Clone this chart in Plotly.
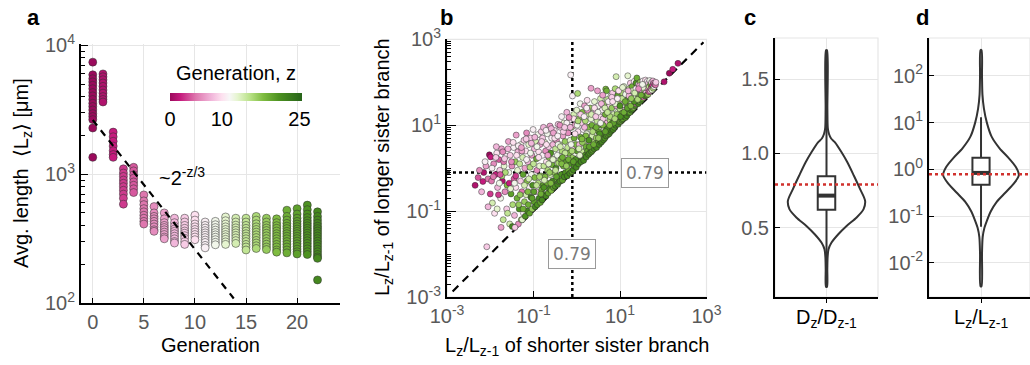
import math
import plotly.graph_objects as go

W, H = 1030, 365
FONT = "Liberation Sans, Arial, Helvetica, sans-serif"
TICK_GREY = "#595959"
GRID = "#e6e6e6"
INK = "#333333"
REF_RED = "#d0312d"

# ---------------- panel a: average branch length per generation (µm) ----------------
# one row per generation z = 0, 1, 2, ...
a_length_by_generation = [
    [7400, 5900, 5500, 5200, 4900, 4600, 4300, 4050, 3800, 3550, 3350, 3150, 2950, 2800, 2650, 2280, 1350],
    [6000, 5700, 5400, 5100, 4800, 4500, 4250, 4000, 3800, 3630],
    [2120, 1950, 1800, 1650, 1520, 1420, 1350],
    [1100, 1020, 960, 900, 850, 800, 750, 700, 650, 585],
    [1130, 1060, 990, 930, 870, 820, 770, 720],
    [690, 620, 580, 540, 510, 480, 455, 430, 410],
    [560, 500, 470, 450, 430, 410, 390, 370, 360],
    [500, 450, 420, 400, 385, 370, 355, 340, 325, 315],
    [455, 420, 395, 375, 360, 345, 330, 315, 300, 292],
    [455, 425, 400, 380, 362, 348, 333, 318, 300, 285],
    [480, 440, 410, 390, 372, 356, 340, 325, 310],
    [425, 400, 382, 365, 350, 336, 322, 308, 295, 280, 268],
    [430, 405, 385, 368, 352, 338, 324, 310, 296, 283],
    [465, 435, 410, 390, 372, 356, 340, 326, 312, 298, 285],
    [455, 425, 402, 383, 366, 350, 335, 320, 305, 290],
    [455, 425, 400, 380, 362, 345, 330, 315, 300, 285, 272, 258],
    [470, 440, 412, 390, 372, 355, 338, 322, 306, 292, 278, 265],
    [455, 425, 400, 382, 365, 348, 332, 316, 300, 286, 272, 260],
    [450, 420, 398, 380, 362, 345, 330, 315, 300, 285, 272, 258, 248],
    [525, 470, 440, 415, 395, 378, 360, 345, 330, 315, 300, 286, 272, 258, 245],
    [540, 490, 455, 430, 410, 392, 375, 360, 345, 330, 316, 302, 288, 275, 262, 250, 240],
    [575, 530, 490, 460, 435, 415, 397, 380, 364, 348, 333, 318, 304, 290, 276, 263, 250, 238],
    [510, 470, 440, 415, 395, 378, 362, 346, 331, 316, 302, 288, 275, 262, 250, 238, 228, 222, 151],
]
fit_prefactor_um = 2630          # L(z) ~ L0 * 2^(-z/3)
fit_generation_span = [0, 13.8]

# ---------------- panel b: daughter/parent length ratios of sister branches ----------------
# log10 of L_z/L_{z-1} for the shorter and the longer sister, plus the generation z
b_log_short = [
    -2.35, -2.17, -2.15, -2.02, -1.99, -2.00, -2.25, -2.10, -2.05, -2.20, -2.08, -2.12, -2.28,
    -1.95, -1.92, -1.88, -1.85, -1.83, -1.80, -1.78, -1.76, -1.74, -1.72, -1.70, -1.68, -1.66, -1.64, -1.62, -1.97, -1.90, -1.86, -1.81, -1.73, -1.69, -1.61, -1.75,
    -1.58, -1.57, -1.55, -1.54, -1.52, -1.50, -1.49, -1.48, -1.46, -1.45, -1.44, -1.42, -1.41, -1.40, -1.38, -1.37, -1.36, -1.35, -1.33, -1.32, -1.30, -1.29, -1.28, -1.27, -1.25, -1.24, -1.23, -1.22, -1.21, -1.20, -1.56, -1.43, -1.26,
    -1.19, -1.18, -1.17, -1.16, -1.15, -1.14, -1.13, -1.12, -1.11, -1.10, -1.09, -1.08, -1.07, -1.06, -1.05, -1.04, -1.03, -1.02, -1.01, -1.00, -0.99, -0.98, -0.97, -0.96, -0.95, -0.94, -0.93, -0.92, -0.91, -0.90, -0.89, -0.88, -0.87, -0.86, -0.85, -0.84, -0.83, -0.82, -0.81,
    -0.80, -0.79, -0.78, -0.77, -0.76, -0.75, -0.74, -0.73, -0.72, -0.71, -0.70, -0.69, -0.68, -0.67, -0.66, -0.65, -0.64, -0.63, -0.62, -0.61, -0.60, -0.59, -0.58, -0.57, -0.56, -0.55, -0.54, -0.53, -0.52, -0.51, -0.50, -0.49, -0.48, -0.47, -0.46, -0.45, -0.44, -0.43, -0.42, -0.41,
    -0.40, -0.39, -0.38, -0.37, -0.36, -0.35, -0.34, -0.33, -0.32, -0.31, -0.30, -0.29, -0.28, -0.27, -0.26, -0.25, -0.24, -0.23, -0.22, -0.21, -0.20, -0.19, -0.18, -0.17, -0.16, -0.15, -0.14, -0.14, -0.12, -0.11, -0.10, -0.10, -0.09, -0.08, -0.07, -0.06, -0.05, -0.04, -0.03, -0.02, -0.01,
    0.00, 0.02, 0.01, 0.03, 0.04, 0.05, 0.06, 0.07, 0.08, 0.09, 0.10, 0.11, 0.12, 0.13, 0.14, 0.15, 0.16, 0.17, 0.18, 0.19, 0.20, 0.21, 0.22, 0.23, 0.24, 0.25, 0.26, 0.27, 0.28, 0.29, 0.30, 0.31, 0.33, 0.32, 0.34, 0.35, 0.36, 0.37, 0.38, 0.39,
    0.40, 0.41, 0.42, 0.43, 0.44, 0.45, 0.46, 0.47, 0.48, 0.49, 0.50, 0.51, 0.52, 0.53, 0.54, 0.55, 0.56, 0.57, 0.58, 0.59, 0.60, 0.61, 0.62, 0.63, 0.64, 0.65, 0.66, 0.67, 0.69, 0.68, 0.70, 0.71, 0.72, 0.73, 0.74, 0.75, 0.76, 0.77, 0.78, 0.79,
    0.80, 0.81, 0.82, 0.83, 0.84, 0.85, 0.86, 0.87, 0.88, 0.89, 0.90, 0.91, 0.92, 0.93, 0.94, 0.95, 0.96, 0.97, 0.98, 0.99, 1.00, 1.01, 1.02, 1.03, 1.04, 1.05, 1.06, 1.07, 1.08, 1.09, 1.10, 1.11, 1.12, 1.13, 1.14, 1.15, 1.16, 1.18, 1.17, 1.19,
    1.20, 1.21, 1.22, 1.23, 1.24, 1.25, 1.26, 1.27, 1.28, 1.29, 1.30, 1.31, 1.32, 1.33, 1.34, 1.35, 1.36, 1.37, 1.39, 1.38, 1.40, 1.41, 1.42, 1.43, 1.44, 1.45, 1.46, 1.47, 1.48, 1.49, 1.50, 1.51, 1.52, 1.53, 1.54, 1.55, 1.56, 1.57, 1.58, 1.59,
    1.60, 1.61, 1.62, 1.63, 1.64, 1.65, 1.66, 1.67, 1.68, 1.69, 1.70, 1.71, 1.72, 1.73, 1.74, 1.75, 1.76, 1.77, 1.78, 1.79, 1.80, 1.82, 1.83,
    -1.93, -1.87, -1.79, -1.71, -1.65, -1.59, -1.53, -1.47, -1.41, -1.35, -1.31, -1.27, -1.21, -1.17, -1.13, -1.07, -1.03, -0.97, -0.93, -0.88,
    -0.83, -0.79, -0.75, -0.71, -0.67, -0.63, -0.59, -0.55, -0.51, -0.47, -0.43, -0.39, -0.35, -0.31, -0.27, -0.23, -0.19, -0.15, -0.11, -0.07,
    -0.03, 0.01, 0.05, 0.09, 0.13, 0.17, 0.21, 0.25, 0.29, 0.33, 0.37, 0.41, 0.45, 0.49, 0.53, 0.57, 0.61, 0.65, 0.69, 0.73,
    0.77, 0.81, 0.85, 0.89, 0.93, 0.97, 1.01, 1.05, 1.09, 1.13, 1.17, 1.21, 1.25, 1.29, 1.33, 1.37, 1.41, 1.45, 1.49, 1.53,
    -2.05, -1.96, -1.84, -1.77, -1.67, -1.60, -1.51, -1.44, -1.39, -1.34, -1.28, -1.24, -1.16, -1.11, -1.05, -0.99, -0.92, -0.86, -0.81, -0.76,
    -0.70, -0.65, -0.60, -0.54, -0.49, -0.44, -0.38, -0.33, -0.28, -0.24, -0.18, -0.13, -0.08, -0.04, 0.03, 0.07, 0.12, 0.18, 0.23, 0.28,
    0.34, 0.39, 0.44, 0.50, 0.55, 0.60, 0.66, 0.71, 0.76, 0.83, 0.88, 0.94, 1.00, 1.06, 1.12, 1.19, 1.26, 1.34, 1.43, 1.52,
    2.02, 2.14, 2.22, 2.34,
]
b_log_long = [
    -0.40, -0.31, -0.10, 0.31, 0.26, -0.60, -0.05, 0.05, -0.25, -0.55, -1.83, 0.15, -0.22,
    -0.81, 0.10, -0.15, 0.35, -0.45, 0.20, -0.05, -0.70, 0.45, -0.30, -1.20, 0.05, -0.55, 0.28, -0.95, -0.30, -1.05, 0.50, -0.62, -0.18, 0.15, -0.40, -1.38,
    0.62, -0.10, -1.30, 0.30, -0.60, 0.05, -1.36, -0.85, 0.48, -0.25, -1.10, 0.15, -0.45, 0.77, -0.70, -0.05, 0.38, -1.30, -0.95, 0.10, -0.30, 0.55, -1.20, -0.55, 0.25, -0.15, -1.05, 0.65, -0.78, 0.00, -0.35, -1.38, -1.20,
    -1.12, 0.40, -0.62, 0.82, -0.30, -1.00, 0.15, -0.85, 0.55, -0.45, -1.05, 0.02, 0.70, -0.68, -0.15, 0.30, -0.95, -0.40, 0.90, 0.10, -0.78, 0.45, -0.22, -0.90, 0.62, -0.55, 0.22, -0.05, -0.85, 0.78, -0.35, 0.38, -0.70, 0.05, 0.55, -0.80, -0.18, 0.85, -0.50,
    -0.74, 0.30, -0.40, 0.95, 0.05, -0.62, 0.60, -0.20, 0.40, -0.65, 0.15, -0.35, 0.80, -0.05, -0.58, 0.50, 0.25, -0.48, 0.98, -0.15, 0.35, -0.52, 0.70, 0.08, -0.30, 0.55, -0.45, 0.20, 0.88, -0.10, -0.42, 0.45, 0.00, 0.65, -0.25, 0.30, -0.38, 1.02, 0.12, -0.32,
    0.55, -0.30, 0.95, 0.20, -0.15, 1.20, 0.40, -0.28, 0.75, 0.05, 1.05, -0.20, 0.30, 0.62, -0.10, 0.90, 0.15, 1.30, -0.18, 0.48, 0.82, -0.05, 0.35, 1.12, -0.12, 0.65, 0.10, 2.17, 0.95, -0.08, 1.68, 0.45, 0.25, -0.04, 1.25, 0.70, 0.05, 1.00, 0.35, 0.55, 0.02,
    1.35, 1.74, 0.40, 0.85, 0.10, 1.15, 0.55, 0.20, 1.50, 0.72, 0.15, 1.05, 0.38, 1.30, 0.25, 0.90, 0.18, 0.60, 1.45, 0.30, 1.10, 0.50, 0.26, 0.80, 1.58, 0.40, 0.95, 0.32, 1.25, 0.68, 0.35, 1.40, 1.86, 0.55, 0.38, 1.00, 0.75, 0.42, 1.20, 0.60,
    0.45, 1.55, 0.90, 0.52, 1.30, 0.70, 0.48, 1.10, 1.80, 0.60, 1.45, 0.85, 0.55, 1.20, 0.68, 1.62, 0.60, 1.00, 0.62, 1.35, 0.78, 1.15, 0.66, 1.50, 0.92, 0.70, 1.25, 1.84, 1.80, 0.75, 1.05, 1.60, 0.78, 1.30, 0.95, 0.80, 1.45, 1.12, 0.85, 1.68,
    0.88, 1.40, 1.05, 1.75, 0.90, 1.25, 1.58, 0.95, 1.15, 1.85, 1.00, 2.13, 1.45, 1.05, 1.30, 1.70, 1.02, 1.20, 1.55, 1.08, 1.38, 1.82, 1.10, 1.60, 1.12, 1.28, 1.75, 1.15, 1.48, 1.90, 1.20, 1.65, 1.35, 1.18, 1.80, 1.50, 1.22, 2.15, 1.70, 1.42,
    1.28, 1.85, 1.55, 1.30, 1.98, 1.70, 1.35, 1.50, 1.90, 1.38, 1.75, 1.60, 1.42, 2.02, 1.80, 1.45, 1.65, 1.98, 2.10, 1.50, 1.88, 1.72, 1.50, 1.95, 1.62, 1.82, 1.55, 2.00, 1.70, 1.58, 1.90, 1.78, 1.62, 2.03, 1.72, 1.65, 1.95, 1.82, 1.68, 2.05,
    1.75, 1.95, 1.70, 2.02, 1.85, 1.72, 1.98, 1.78, 1.90, 2.04, 1.80, 1.95, 1.85, 2.00, 1.82, 1.92, 2.03, 1.86, 1.98, 1.90, 1.95, 1.94, 2.00,
    -0.20, 0.25, -0.35, 0.38, -0.10, 0.45, -0.48, 0.60, -0.18, 0.52, -0.62, 0.40, -0.40, 0.68, -0.55, 0.35, -0.70, 0.72, -0.40, 0.25,
    -0.60, 0.70, -0.28, 0.88, 0.30, -0.10, 0.92, 0.20, 0.70, -0.20, 0.55, 1.00, 0.10, 0.85, 0.35, 1.05, 0.20, 0.95, 0.40, 1.15,
    0.20, 1.00, 0.45, 1.25, 0.60, 1.20, 0.75, 1.35, 0.50, 1.15, 0.85, 1.40, 0.95, 1.30, 0.80, 1.50, 1.00, 1.40, 0.90, 1.55,
    1.20, 1.65, 1.05, 1.50, 1.25, 1.80, 1.20, 1.62, 1.30, 1.72, 1.40, 1.68, 1.45, 1.80, 1.55, 1.85, 1.60, 1.92, 1.70, 1.88,
    -0.90, 0.00, -0.95, -0.15, 0.22, -1.05, 0.15, -0.35, 0.30, -0.85, 0.48, -0.95, 0.20, -0.25, 0.58, -0.55, 0.50, -0.20, 0.62, -0.45,
    0.55, 0.10, -0.35, 0.82, -0.05, 0.75, 0.50, 0.25, 0.95, 0.05, 1.18, 0.55, 0.15, 0.80, 1.10, 0.30, 0.68, 0.95, 1.40, 0.65,
    1.25, 0.55, 1.20, 0.70, 1.05, 1.70, 0.85, 1.30, 1.00, 1.55, 1.15, 1.62, 1.45, 1.88, 1.55, 1.80, 1.62, 1.75, 1.85, 1.95,
    2.01, 2.21, 2.30, 2.44,
]
b_generation = [
    1, 2, 1, 0, 2, 3, 6, 7, 5, 8, 9, 11, 4,
    14, 6, 2, 10, 8, 4, 9, 12, 7, 1, 15, 13, 6, 11, 9, 5, 10, 8, 3, 16, 5, 18, 7,
    7, 12, 14, 9, 20, 6, 22, 16, 11, 4, 8, 17, 10, 7, 19, 13, 8, 6, 21, 15, 9, 12, 18, 5, 14, 20, 11, 9, 17, 7, 2, 9, 13,
    21, 10, 14, 6, 18, 22, 8, 19, 13, 11, 20, 16, 9, 22, 12, 7, 17, 21, 11, 15, 20, 8, 18, 22, 14, 9, 19, 6, 21, 12, 16, 10, 22, 13, 7, 20, 17, 9, 19,
    22, 11, 20, 8, 15, 21, 13, 18, 6, 22, 10, 19, 12, 16, 20, 9, 17, 22, 7, 14, 21, 18, 11, 19, 22, 8, 20, 13, 10, 17, 21, 15, 22, 6, 19, 12, 22, 9, 16, 20,
    14, 22, 9, 18, 21, 11, 16, 20, 7, 19, 13, 22, 10, 17, 21, 12, 20, 8, 22, 15, 6, 19, 18, 10, 22, 13, 21, 11, 16, 20, 11, 9, 17, 22, 14, 19, 21, 7, 12, 18, 22,
    13, 16, 20, 10, 22, 17, 8, 21, 12, 19, 22, 9, 15, 18, 20, 11, 22, 14, 7, 21, 16, 19, 22, 13, 10, 20, 18, 22, 15, 12, 21, 17, 7, 9, 22, 19, 14, 20, 11, 16,
    22, 13, 18, 21, 8, 17, 22, 15, 7, 20, 12, 19, 22, 10, 16, 14, 21, 18, 22, 11, 20, 9, 22, 17, 13, 21, 19, 18, 19, 22, 8, 15, 20, 12, 18, 22, 10, 16, 21, 13,
    22, 17, 20, 9, 22, 14, 18, 21, 11, 16, 22, 14, 7, 19, 13, 20, 22, 10, 17, 21, 15, 12, 18, 8, 22, 19, 16, 20, 11, 13, 22, 18, 9, 21, 14, 17, 22, 13, 19, 10,
    22, 15, 18, 20, 9, 16, 22, 12, 19, 21, 14, 8, 17, 11, 20, 22, 13, 21, 19, 6, 16, 18, 22, 10, 15, 7, 20, 17, 12, 22, 14, 9, 19, 11, 18, 5, 13, 16, 21, 10,
    8, 14, 20, 11, 6, 17, 9, 4, 15, 12, 7, 19, 5, 10, 13, 3, 8, 16, 6, 11, 4, 5, 9,
    5, 9, 12, 6, 16, 8, 13, 10, 3, 11, 17, 7, 14, 9, 18, 12, 20, 8, 15, 10,
    19, 9, 14, 11, 7, 17, 8, 13, 10, 20, 12, 6, 18, 9, 15, 11, 19, 8, 16, 10,
    21, 12, 14, 9, 17, 11, 18, 7, 20, 13, 16, 10, 19, 12, 21, 8, 18, 14, 22, 11,
    16, 9, 20, 13, 17, 10, 21, 15, 19, 12, 20, 8, 18, 14, 21, 11, 16, 7, 19, 13,
    8, 11, 13, 4, 9, 15, 6, 12, 10, 17, 7, 19, 11, 14, 8, 20, 12, 16, 9, 21,
    10, 13, 18, 7, 15, 11, 14, 19, 9, 17, 6, 12, 20, 10, 16, 13, 18, 8, 11, 21,
    14, 19, 9, 17, 12, 7, 20, 15, 18, 10, 16, 11, 21, 13, 19, 8, 17, 14, 6, 12,
    1, 0, 2, 1,
]
median_ratio = 0.79

# ---------------- panel c: diameter ratio D_z/D_{z-1} ----------------
c_profile_value = [0.101, 0.22, 0.30, 0.354, 0.399, 0.455, 0.511, 0.568, 0.624, 0.68,
                   0.759, 0.849, 0.94, 1.007, 1.074, 1.10, 1.13, 1.17, 1.30, 1.694]
c_profile_density = [0.013, 0.021, 0.029, 0.052, 0.13, 0.305, 0.52, 0.78, 0.96, 1.0,
                     0.87, 0.71, 0.54, 0.39, 0.22, 0.12, 0.065, 0.034, 0.023, 0.013]
c_box = dict(lowerfence=0.10, q1=0.62, median=0.715, q3=0.845, upperfence=1.69)

# ---------------- panel d: length ratio L_z/L_{z-1} ----------------
d_profile_log10 = [-2.50, -1.80, -1.45, -1.25, -1.10, -0.90, -0.70, -0.50, -0.30, -0.12,
                   0.05, 0.25, 0.45, 0.70, 1.00, 1.30, 1.60, 2.00, 2.55]
d_profile_density = [0.013, 0.026, 0.044, 0.09, 0.154, 0.256, 0.41, 0.64, 0.87, 1.0,
                     0.92, 0.72, 0.49, 0.28, 0.154, 0.077, 0.038, 0.026, 0.013]
d_box = dict(lowerfence=0.059, q1=0.47, median=0.84, q3=1.78, upperfence=13.0)

# generation colour map (pink -> white -> green)
gen_stops = [(0, "#9b0a5c"), (2, "#c51b7d"), (5, "#de77ae"), (8, "#f1b6da"), (10, "#fde0ef"),
             (11.5, "#f7f7f7"), (13, "#e6f5d0"), (15.5, "#b8e186"), (18, "#7fbc41"),
             (21, "#4d9221"), (25.5, "#276419")]
GEN_MAX = 25.5
colorscale = [[g / GEN_MAX, c] for g, c in gen_stops]

VIOLIN_HALF = 0.75   # half-width of the widest violin section, in x-axis units
BOX_HALF = 0.17


def sup(e):
    return "10<sup>%d</sup>" % e


fig = go.Figure()

# ---- a ----
a_gen = [g for g, vals in enumerate(a_length_by_generation) for _ in vals]
a_len = [v for vals in a_length_by_generation for v in vals]
fig.add_trace(go.Scatter(
    x=a_gen, y=a_len, mode="markers", xaxis="x", yaxis="y",
    marker=dict(size=8, color=a_gen, coloraxis="coloraxis",
                line=dict(width=0.7, color="rgba(50,50,50,0.75)")),
    showlegend=False, hoverinfo="skip"))
fit_z = fit_generation_span
fig.add_trace(go.Scatter(
    x=fit_z, y=[fit_prefactor_um * 2 ** (-z / 3) for z in fit_z], mode="lines",
    xaxis="x", yaxis="y", line=dict(color="black", width=2.2, dash="7px,6px"),
    showlegend=False, hoverinfo="skip"))

# ---- b ----
fig.add_trace(go.Scatter(
    x=[10 ** -2.87, 10 ** 2.93], y=[10 ** -2.87, 10 ** 2.93], mode="lines",
    xaxis="x2", yaxis="y2", line=dict(color="black", width=2.2, dash="8px,6px"),
    showlegend=False, hoverinfo="skip"))
fig.add_trace(go.Scatter(
    x=[median_ratio, median_ratio], y=[1e-3, 1e3], mode="lines", xaxis="x2", yaxis="y2",
    line=dict(color="black", width=2.5, dash="dot"), showlegend=False, hoverinfo="skip"))
fig.add_trace(go.Scatter(
    x=[1e-3, 1e3], y=[median_ratio, median_ratio], mode="lines", xaxis="x2", yaxis="y2",
    line=dict(color="black", width=2.5, dash="dot"), showlegend=False, hoverinfo="skip"))
fig.add_trace(go.Scatter(
    x=[10 ** v for v in b_log_short], y=[10 ** v for v in b_log_long], mode="markers",
    xaxis="x2", yaxis="y2",
    marker=dict(size=6, color=b_generation, coloraxis="coloraxis",
                line=dict(width=0.6, color="rgba(40,40,40,0.8)")),
    showlegend=False, hoverinfo="skip"))


def violin(values, density, xa, ya):
    right = [VIOLIN_HALF * d for d in density]
    xs = right + [-w for w in right[::-1]] + [right[0]]
    ys = list(values) + list(values[::-1]) + [values[0]]
    fig.add_trace(go.Scatter(
        x=xs, y=ys, mode="lines", xaxis=xa, yaxis=ya,
        line=dict(color=INK, width=2, shape="spline", smoothing=0.8),
        showlegend=False, hoverinfo="skip"))


def box(stats, xa, ya):
    fig.add_trace(go.Box(
        x=[0], q1=[stats["q1"]], median=[stats["median"]], q3=[stats["q3"]],
        lowerfence=[stats["lowerfence"]], upperfence=[stats["upperfence"]],
        orientation="v", width=2 * BOX_HALF, whiskerwidth=0, fillcolor="white",
        boxpoints=False, line=dict(color=INK, width=2), xaxis=xa, yaxis=ya,
        showlegend=False, hoverinfo="skip"))
    fig.add_trace(go.Scatter(
        x=[-BOX_HALF, BOX_HALF], y=[stats["median"]] * 2, mode="lines", xaxis=xa, yaxis=ya,
        line=dict(color=INK, width=4), showlegend=False, hoverinfo="skip"))


def ref_line(xa, ya, x_span):
    fig.add_trace(go.Scatter(
        x=x_span, y=[median_ratio, median_ratio], mode="lines", xaxis=xa, yaxis=ya,
        line=dict(color=REF_RED, width=2.5, dash="dot"), showlegend=False, hoverinfo="skip"))


# ---- c ----
violin(c_profile_value, c_profile_density, "x3", "y3")
box(c_box, "x3", "y3")
ref_line("x3", "y3", [-1, 1])

# ---- d ----
violin([10 ** v for v in d_profile_log10], d_profile_density, "x4", "y4")
box(d_box, "x4", "y4")
ref_line("x4", "y4", [-1.03, 0.97])


def px_x(p):
    return p / W


def px_y(p):
    return (H - p) / H


tickfont = dict(size=20, color=TICK_GREY, family=FONT)
axis_common = dict(showline=True, linecolor="black", linewidth=2, zeroline=False,
                   gridcolor=GRID, gridwidth=1, tickcolor="black", tickfont=tickfont)

decade_minor = [m * 10 ** e for e in range(-3, 4) for m in range(2, 10)]

fig.update_layout(
    width=W, height=H, margin=dict(l=0, r=0, t=0, b=0, autoexpand=False),
    paper_bgcolor="white", plot_bgcolor="white",
    font=dict(family=FONT, size=20, color="black"),
    coloraxis=dict(
        colorscale=colorscale, cmin=0, cmax=GEN_MAX,
        colorbar=dict(orientation="h", x=px_x(236), xanchor="center", y=px_y(93), yanchor="top",
                      len=132, lenmode="pixels", thickness=8, outlinewidth=0, xpad=0, ypad=0,
                      tickvals=[0, 10, 25], ticks="", ticklen=0,
                      tickfont=dict(size=20, color="black", family=FONT))),
    xaxis=dict(domain=[px_x(81), px_x(340)], anchor="y", range=[-1.15, 24.2],
               tickvals=[0, 5, 10, 15, 20], ticks="inside", ticklen=5, showgrid=True,
               **axis_common),
    yaxis=dict(domain=[px_y(303), px_y(44)], anchor="x", type="log", range=[2, 4.01],
               tickvals=[1e2, 1e3, 1e4], ticktext=[sup(2), sup(3), sup(4)],
               ticks="inside", ticklen=7, showgrid=True,
               minor=dict(tickvals=[v for v in decade_minor if 100 < v < 10000],
                          ticks="inside", ticklen=4, tickcolor="black", showgrid=False),
               **axis_common),
    xaxis2=dict(domain=[px_x(447), px_x(706.5)], anchor="y2", type="log", range=[-3, 3],
                tickvals=[1e-3, 1e-1, 1e1, 1e3], ticktext=[sup(-3), sup(-1), sup(1), sup(3)],
                ticks="inside", ticklen=6, showgrid=True, **axis_common),
    yaxis2=dict(domain=[px_y(297), px_y(39.3)], anchor="x2", type="log", range=[-3, 3],
                tickvals=[1e-3, 1e-1, 1e1, 1e3], ticktext=[sup(-3), sup(-1), sup(1), sup(3)],
                ticks="inside", ticklen=9, showgrid=True,
                minor=dict(tickvals=[1e-2, 1, 1e2] + [v for v in decade_minor if v < 1000],
                           ticks="inside", ticklen=4, tickcolor="black", showgrid=False),
                **axis_common),
    xaxis3=dict(domain=[px_x(775), px_x(878)], anchor="y3", range=[-1, 1],
                tickvals=[0], ticktext=[""], ticks="outside", ticklen=4, showgrid=True,
                **axis_common),
    yaxis3=dict(domain=[px_y(297), px_y(38)], anchor="x3", range=[0.032, 1.777],
                tickvals=[0.5, 1.0, 1.5], ticktext=["0.5", "1.0", "1.5"],
                ticks="inside", ticklen=5, showgrid=True, **axis_common),
    xaxis4=dict(domain=[px_x(929), 1.0], anchor="y4", range=[-1.03, 0.97],
                tickvals=[0], ticktext=[""], ticks="outside", ticklen=4, showgrid=True,
                **axis_common),
    yaxis4=dict(domain=[px_y(297), px_y(38)], anchor="x4", type="log", range=[-2.73, 2.81],
                tickvals=[1e-2, 1e-1, 1, 1e1, 1e2],
                ticktext=[sup(-2), sup(-1), sup(0), sup(1), sup(2)],
                ticks="inside", ticklen=5, showgrid=True, **axis_common),
)

# light frames on the open sides of b, c, d
for xa, ya in [("x2", "y2"), ("x3", "y3"), ("x4", "y4")]:
    fig.add_shape(type="rect", xref=xa + " domain", yref=ya + " domain", x0=0, x1=1, y0=0, y1=1,
                  line=dict(color=GRID, width=1.2), layer="below")

ann = []


def text(x, y, s, size=20, color="black", bold=False, angle=0, xanchor="center", yanchor="middle"):
    ann.append(dict(x=px_x(x), y=px_y(y), xref="paper", yref="paper",
                    text=("<b>%s</b>" % s) if bold else s,
                    showarrow=False, textangle=angle, xanchor=xanchor, yanchor=yanchor,
                    font=dict(size=size, color=color, family=FONT)))


# panel letters
for x, s in [(33, "a"), (446, "b"), (750, "c"), (922, "d")]:
    text(x, 17, s, size=22, bold=True)

# colour bar heading
text(236, 73, "Generation, z")

# axis titles
text(22, 173, "Avg. length  \u27e8L<sub>z</sub>\u27e9 [\u03bcm]", angle=-90)
text(210, 345, "Generation")
text(383, 167, "L<sub>z</sub>/L<sub>z-1</sub> of longer sister branch", angle=-90)
text(577, 346, "L<sub>z</sub>/L<sub>z-1</sub> of shorter sister branch")
text(826, 318, "D<sub>z</sub>/D<sub>z-1</sub>")
text(981, 318, "L<sub>z</sub>/L<sub>z-1</sub>")

# scaling law label
text(157, 176, "~2<sup>-z/3</sup>", xanchor="left")

# median ratio labels on the dotted guides of b (log axes: positions in log10 units)
lab = dict(showarrow=False, xref="x2", yref="y2", bgcolor="white", bordercolor="#9a9a9a",
           borderwidth=1, borderpad=4, font=dict(size=17, color="#7a7a7a", family="DejaVu Sans"))
ann.append(dict(x=1.58, y=math.log10(median_ratio), text="%.2f" % median_ratio, **lab))
ann.append(dict(x=math.log10(median_ratio), y=-2.0, text="%.2f" % median_ratio, **lab))

fig.update_layout(annotations=ann)
fig.write_html("out.html")
